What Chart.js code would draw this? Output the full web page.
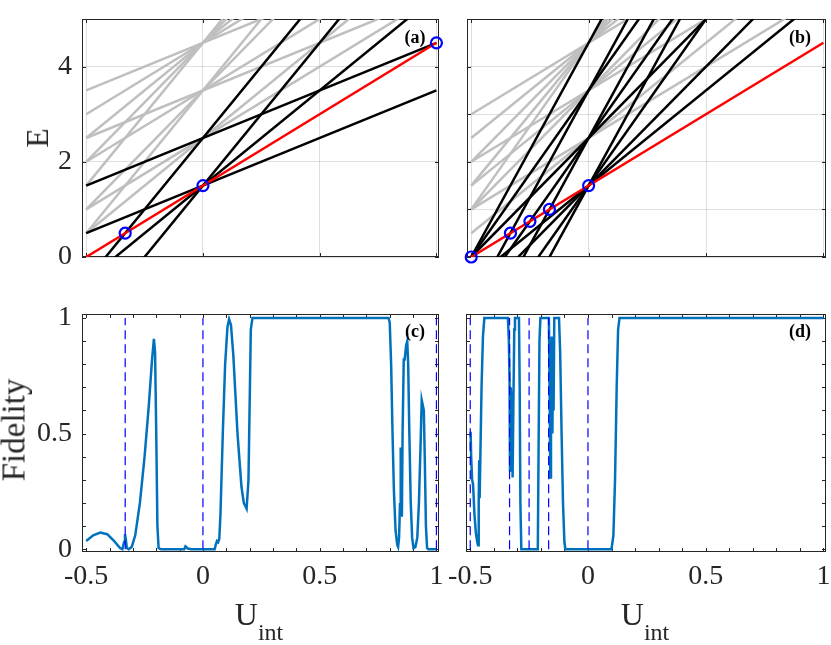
<!DOCTYPE html>
<html>
<head>
<meta charset="utf-8">
<script src="https://cdn.jsdelivr.net/npm/chart.js@4.4.1/dist/chart.umd.min.js"></script>
<style>
  html, body { margin: 0; padding: 0; background: #fff; }
  #wrap { position: relative; width: 831px; height: 645px; overflow: hidden; }
  canvas { position: absolute; left: 0; top: 0; }
  .lbl { position: absolute; font-family: 'Liberation Serif', 'Times New Roman', serif; color: #262626; line-height: 1; white-space: nowrap; }
  .axis { font-size: 32px; }
  .sub { font-size: 24px; vertical-align: -15px; }
  .panel { font-size: 18px; font-weight: bold; color: #000; transform: translateX(-50%); }
</style>
</head>
<body>
<div id="wrap">
  <canvas id="pa" width="831" height="645"></canvas>
  <canvas id="pb" width="831" height="645"></canvas>
  <canvas id="pc" width="831" height="645"></canvas>
  <canvas id="pd" width="831" height="645"></canvas>

  <div class="lbl axis" style="left:37px;top:138px;transform:translate(-50%,-50%) rotate(-90deg)">E</div>
  <div class="lbl axis" style="left:14px;top:430px;font-size:33px;transform:translate(-50%,-50%) rotate(-90deg)">Fidelity</div>
  <div class="lbl axis" style="left:259px;top:598px;transform:translateX(-50%)">U<span class="sub">int</span></div>
  <div class="lbl axis" style="left:645px;top:598px;transform:translateX(-50%)">U<span class="sub">int</span></div>

  <div class="lbl panel" style="left:415px;top:28px">(a)</div>
  <div class="lbl panel" style="left:800px;top:28px">(b)</div>
  <div class="lbl panel" style="left:415px;top:322px">(c)</div>
  <div class="lbl panel" style="left:800px;top:322px">(d)</div>
</div>
<script>
// energy levels are read at the two ends of the U range
const lineU = [-0.5, 1];
const redE = [0, 4.5];

// panel (a)
const blackAStart = [0.5, -0.5, -1.5, 1.5, -0.5];
const blackAEnd = [3.5, 5.5, 7.5, 4.5, 8.5];
const greyAStart = [1.0, 0.5, 2.5, 2.0, 1.0, 0.5, 3.5, 3.0, 2.5, 2.0, 1.5];
const greyAEnd = [5.5, 6.5, 5.5, 6.5, 8.5, 9.5, 6.5, 7.5, 8.5, 9.5, 10.5];
const crossAU = [-0.333, 0, 1];
const crossAE = [0.5, 1.5, 4.5];

// panel (b)
const blackBStart = [-0.5, -1.0, -2.0, -3.0, 0.0, -1.0, -2.0, 0.0, -1.0, 0.0];
const blackBEnd = [5.5, 6.5, 8.5, 10.5, 7.5, 9.5, 11.5, 10.5, 12.5, 13.5];
const greyBStart = [1.0, 0.5, 2.0, 1.5, 1.0, 3.0, 2.5, 2.0, 1.5, 1.0];
const greyBEnd = [5.5, 6.5, 6.5, 7.5, 8.5, 7.5, 8.5, 9.5, 10.5, 11.5];
const crossBU = [-0.5, -0.333, -0.25, -0.167, 0];
const crossBE = [0, 0.5, 0.75, 1.0, 1.5];

// panel (c)
const fidCU = [-0.5, -0.47, -0.44, -0.41, -0.38, -0.355, -0.345, -0.338, -0.334, -0.330, -0.326, -0.318,
  -0.305, -0.29, -0.27, -0.25, -0.232, -0.218, -0.21, -0.205, -0.2, -0.195, -0.19, -0.18, -0.08, -0.075,
  -0.065, -0.05, 0.05, 0.055, 0.06, 0.065, 0.07, 0.075, 0.085, 0.095, 0.105, 0.112, 0.12, 0.13, 0.148,
  0.165, 0.175, 0.187, 0.195, 0.205, 0.212, 0.795, 0.8, 0.806, 0.812, 0.818, 0.825, 0.832, 0.836, 0.84,
  0.844, 0.846, 0.848, 0.85, 0.852, 0.855, 0.86, 0.864, 0.87, 0.875, 0.879, 0.884, 0.89, 0.896, 0.902,
  0.91, 0.918, 0.925, 0.932, 0.937, 0.942, 0.946, 0.95, 0.955, 0.96, 0.965, 1.0];
const fidCF = [0.036, 0.06, 0.072, 0.065, 0.035, 0.005, 0.0, 0.03, 0.065, 0.04, 0.005, 0.0,
  0.01, 0.06, 0.2, 0.4, 0.62, 0.82, 0.91, 0.85, 0.5, 0.1, 0.005, 0.0, 0.0, 0.012,
  0.003, 0.0, 0.0, 0.02, 0.035, 0.03, 0.045, 0.15, 0.5, 0.8, 0.96, 0.995, 0.97, 0.84, 0.5,
  0.27, 0.2, 0.175, 0.3, 0.95, 1.0, 1.0, 0.98, 0.8, 0.5, 0.25, 0.08, 0.02, 0.01, 0.05,
  0.2, 0.44, 0.14, 0.44, 0.14, 0.5, 0.82, 0.82, 0.88, 0.9, 0.8, 0.5, 0.2, 0.05, 0.005,
  0.01, 0.05, 0.2, 0.45, 0.645, 0.62, 0.6, 0.4, 0.1, 0.005, 0.0, 0.0];
const dashC = [-0.333, 0, 1];

// panel (d)
const fidDU = [-0.4985, -0.496, -0.492, -0.488, -0.482, -0.476, -0.470, -0.467, -0.464, -0.462, -0.460,
  -0.457, -0.452, -0.446, -0.44, -0.34, -0.336, -0.333, -0.331, -0.328, -0.325, -0.320, -0.317, -0.313,
  -0.31, -0.293, -0.29, -0.287, -0.283, -0.213, -0.21, -0.206, -0.202, -0.166, -0.163, -0.16, -0.157,
  -0.154, -0.151, -0.148, -0.146, -0.143, -0.123, -0.118, -0.112, -0.106, -0.1, -0.096, 0.1, 0.108,
  0.115, 0.122, 0.128, 0.134, 1.0];
const fidDF = [0.508, 0.40, 0.30, 0.28, 0.15, 0.07, 0.03, 0.017, 0.2, 0.385, 0.22,
  0.4, 0.7, 0.92, 1.0, 1.0, 0.9, 0.73, 0.34, 0.7, 0.645, 0.31, 0.6, 0.95,
  1.0, 1.0, 0.7, 0.2, 0.0, 0.0, 0.4, 0.9, 1.0, 1.0, 0.7, 0.31, 0.65,
  0.92, 0.5, 0.88, 0.6, 1.0, 1.0, 0.85, 0.5, 0.2, 0.03, 0.0, 0.0, 0.06,
  0.3, 0.7, 0.95, 1.0, 1.0];
const dashD = [-0.5, -0.333, -0.25, -0.167, 0];

// ticks
const topXTicks = [-0.5, 0, 0.5, 1];
const aYTicks = [0, 2, 4];
const bYTicks = [0, 1, 2, 3, 4, 5];
const fidXTicks = [-0.5, -0.4, -0.3, -0.2, -0.1, 0, 0.1, 0.2, 0.3, 0.4, 0.5, 0.6, 0.7, 0.8, 0.9, 1];
const fidYTicks = [0, 0.1, 0.2, 0.3, 0.4, 0.5, 0.6, 0.7, 0.8, 0.9, 1];
const fidXLabels = ['-0.5', '0', '0.5', '1'];
const fidYLabels = ['0', '0.5', '1'];

const W = 831, H = 645, AXW = 60, AXH = 40;
const axisColor = '#262626';
const gridColor = 'rgba(38,38,38,0.15)';
const tickFont = { family: "'Liberation Serif', 'Times New Roman', serif", size: 28 };

Chart.defaults.font.family = tickFont.family;

// box and inward ticks, MATLAB style
const framePlugin = {
  id: 'frame',
  beforeDatasetsDraw(chart) {
    const { ctx, chartArea: a, scales: { x, y } } = chart;
    const len = 4;
    ctx.save();
    ctx.strokeStyle = axisColor;
    ctx.lineWidth = 1;
    ctx.beginPath();
    x.ticks.forEach(t => {
      const px = Math.round(x.getPixelForValue(t.value)) + 0.5;
      ctx.moveTo(px, a.bottom); ctx.lineTo(px, a.bottom - len);
      ctx.moveTo(px, a.top); ctx.lineTo(px, a.top + len);
    });
    y.ticks.forEach(t => {
      const py = Math.round(y.getPixelForValue(t.value)) + 0.5;
      ctx.moveTo(a.left, py); ctx.lineTo(a.left + len, py);
      ctx.moveTo(a.right, py); ctx.lineTo(a.right - len, py);
    });
    ctx.stroke();
    ctx.strokeRect(a.left + 0.5, a.top + 0.5, a.right - a.left - 1, a.bottom - a.top - 1);
    ctx.restore();
  }
};

function labelFrom(list) {
  return v => {
    const s = String(Math.round(v * 100) / 100);
    return list.includes(s) ? s : '';
  };
}

// fixed axis sizes, no extra room asked for the tick labels
function fixSize(s, w, h) {
  if (w) s.width = w;
  if (h) s.height = h;
  s.paddingTop = 0; s.paddingBottom = 0; s.paddingLeft = 0; s.paddingRight = 0;
}

function levelLines(starts, ends, color, order) {
  return starts.map((s, i) => ({
    data: [{ x: lineU[0], y: s }, { x: lineU[1], y: ends[i] }],
    showLine: true, borderColor: color, borderWidth: 2.5, pointRadius: 0, order: order
  }));
}

function makePanel(id, box, opt) {
  const ctx = document.getElementById(id);
  return new Chart(ctx, {
    type: 'scatter',
    data: { datasets: opt.datasets },
    plugins: [framePlugin],
    options: {
      responsive: false,
      animation: false,
      events: [],
      layout: {
        autoPadding: false,
        padding: { left: box.left - AXW, right: W - box.right, top: box.top, bottom: H - box.bottom - AXH }
      },
      plugins: { legend: { display: false }, tooltip: { enabled: false } },
      scales: {
        x: {
          type: 'linear', min: -0.518, max: 1.011,
          afterBuildTicks: s => { s.ticks = opt.xTicks.map(v => ({ value: v })); },
          afterFit: s => fixSize(s, 0, AXH),
          border: { display: false },
          grid: { display: opt.grid, drawTicks: false, color: gridColor, lineWidth: 1 },
          ticks: {
            display: !!opt.xLabels, autoSkip: false, maxRotation: 0, padding: 8,
            font: tickFont, color: axisColor, callback: labelFrom(opt.xLabels || [])
          }
        },
        y: {
          type: 'linear', min: opt.yMin, max: opt.yMax,
          afterBuildTicks: s => { s.ticks = opt.yTicks.map(v => ({ value: v })); },
          afterFit: s => fixSize(s, AXW, 0),
          border: { display: false },
          grid: { display: opt.grid, drawTicks: false, color: gridColor, lineWidth: 1 },
          ticks: {
            display: !!opt.yLabels, autoSkip: false, padding: 10,
            font: tickFont, color: axisColor, callback: labelFrom(opt.yLabels || [])
          }
        }
      }
    }
  });
}

function redLine() {
  return {
    data: [{ x: lineU[0], y: redE[0] }, { x: lineU[1], y: redE[1] }],
    showLine: true, borderColor: '#ff0000', borderWidth: 2.5, pointRadius: 0, order: 1
  };
}

function crossings(us, es) {
  return {
    data: us.map((u, i) => ({ x: u, y: es[i] })),
    showLine: false, pointRadius: 5.5, borderWidth: 2.2, borderColor: '#0000ff',
    backgroundColor: 'rgba(0,0,0,0)', clip: false, order: 0
  };
}

function fidelity(us, fs) {
  return {
    data: us.map((u, i) => ({ x: u, y: fs[i] })),
    showLine: true, borderColor: '#0072bd', borderWidth: 2.5, pointRadius: 0, order: 1
  };
}

function dashes(us) {
  return us.map(u => ({
    data: [{ x: u, y: 0 }, { x: u, y: 1 }],
    showLine: true, borderColor: '#0000ff', borderWidth: 1.2, borderDash: [9, 5], pointRadius: 0, order: 0
  }));
}

makePanel('pa', { left: 82, right: 439, top: 19, bottom: 257 }, {
  grid: true, xTicks: topXTicks, yTicks: aYTicks, yLabels: ['0', '2', '4'], yMin: 0, yMax: 5,
  datasets: [crossings(crossAU, crossAE), redLine()]
    .concat(levelLines(blackAStart, blackAEnd, '#000000', 2))
    .concat(levelLines(greyAStart, greyAEnd, '#bfbfbf', 3))
});

makePanel('pb', { left: 467, right: 826, top: 19, bottom: 257 }, {
  grid: true, xTicks: topXTicks, yTicks: bYTicks, yMin: 0, yMax: 5,
  datasets: [crossings(crossBU, crossBE), redLine()]
    .concat(levelLines(blackBStart, blackBEnd, '#000000', 2))
    .concat(levelLines(greyBStart, greyBEnd, '#bfbfbf', 3))
});

makePanel('pc', { left: 82, right: 439, top: 314, bottom: 552 }, {
  grid: false, xTicks: fidXTicks, yTicks: fidYTicks, xLabels: fidXLabels, yLabels: fidYLabels,
  yMin: -0.012, yMax: 1.017,
  datasets: dashes(dashC).concat([fidelity(fidCU, fidCF)])
});

makePanel('pd', { left: 466, right: 826, top: 314, bottom: 552 }, {
  grid: false, xTicks: fidXTicks, yTicks: fidYTicks, xLabels: fidXLabels,
  yMin: -0.012, yMax: 1.017,
  datasets: dashes(dashD).concat([fidelity(fidDU, fidDF)])
});
</script>
</body>
</html>
